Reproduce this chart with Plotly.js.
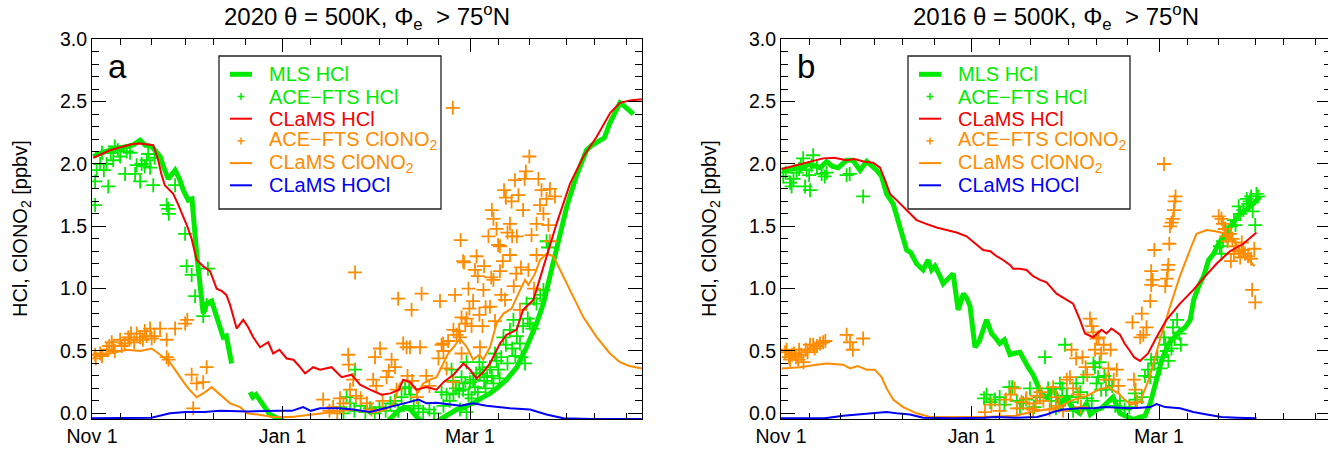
<!DOCTYPE html>
<html>
<head>
<meta charset="utf-8">
<script src="https://cdn.plot.ly/plotly-3.0.1.min.js"></script>
<style>
html,body{margin:0;padding:0;overflow:hidden;background:#fff;}
#chart{width:1334px;height:450px;}
</style>
</head>
<body>
<div id="chart"></div>
<script>
// ---------------- DATA (days since Nov 1) ----------------
const xTickDays = [0, 61, 121];
const xTickLabels = ['Nov 1', 'Jan 1', 'Mar 1'];
const xMinorDays = [9, 19, 30, 39, 49, 70, 80, 92, 101, 111, 130, 140, 152, 161, 171];

const panelTitles = ['2020 θ = 500K, Φ<sub>e</sub>  > 75<sup>o</sup>N', '2016 θ = 500K, Φ<sub>e</sub>  > 75<sup>o</sup>N'];
const panelLetters = ['a', 'b'];
const yLabel = 'HCl, ClONO<sub>2</sub> [ppbv]';
const seriesNames = ['MLS HCl', 'ACE−FTS HCl', 'CLaMS HCl', 'ACE−FTS ClONO<sub>2</sub>', 'CLaMS ClONO<sub>2</sub>', 'CLaMS HOCl'];

// ---- Panel a (2019/2020) ----
const a_mls_day = [0.4, 3, 5.8, 8, 11.1, 13, 15.4, 17, 19.1, 21.8, 23, 24.4, 26.6, 28, 29.2, 30.8, 32, 33.5, 35.6, 36.7, 38.3, 40.4, 42.0, 43, 44.7, 47, 50.6, 51.5, 52.5, 53.8, 55, 56.9, 58.5, 60, 62, 65, 70, 75, 80, 85, 90, 94, 96, 98, 100, 102, 104, 106, 108, 110, 112.4, 114.5, 116.7, 119, 122, 124.5, 127.4, 130, 132.7, 136, 139.1, 142.3, 144.5, 146.6, 149.3, 152, 155, 158.3, 160, 162.6, 164, 165.8, 167.3, 169, 170.6, 172, 173.3];
const a_mls_val = [2.06, 2.09, 2.11, 2.12, 2.14, 2.15, 2.19, 2.15, 2.14, 2.06, 1.97, 1.88, 1.95, 1.88, 1.79, 1.71, 1.72, 1.28, 0.80, 0.88, 0.90, 0.75, 0.61, 0.62, 0.40, null, 0.17, 0.13, 0.15, 0.11, 0.06, -0.01, -0.03, -0.04, -0.07, -0.10, -0.12, -0.11, -0.10, -0.10, -0.09, -0.08, -0.03, 0.02, 0.05, 0.03, -0.03, -0.08, -0.10, -0.07, -0.04, 0.0, 0.03, 0.05, 0.08, 0.12, 0.16, 0.21, 0.27, 0.37, 0.53, 0.72, 0.88, 1.10, 1.39, 1.66, 1.90, 2.11, 2.15, 2.19, 2.21, 2.33, 2.40, 2.49, 2.46, 2.43, 2.40];

const a_clams_hcl_day = [0.4, 3, 5.8, 8.5, 11.1, 13, 15.4, 17.5, 19.6, 21.2, 22.2, 23.3, 24.5, 26, 27.5, 29.2, 30.5, 31.9, 33.5, 35.6, 37.8, 39.9, 41.6, 43, 44.2, 46.3, 48.4, 50, 51.6, 53.8, 56.4, 58, 60, 62.3, 64.5, 66.6, 68.2, 70.8, 73, 76.7, 79.9, 83.1, 85.8, 89, 92.7, 95.5, 98.3, 99.6, 101.8, 103.9, 107.1, 110.3, 112.5, 115.7, 118.9, 121, 123.1, 125.2, 127.4, 130.6, 132.7, 135.9, 138, 141.3, 144.5, 148.7, 153, 157.3, 161.6, 165.9, 169, 172.2, 176];
const a_clams_hcl_val = [2.05, 2.08, 2.11, 2.13, 2.15, 2.16, 2.165, 2.16, 2.15, 2.03, 1.92, 1.83, 1.80, 1.76, 1.68, 1.58, 1.50, 1.40, 1.23, 1.18, 1.14, 1.00, 0.98, 0.95, 0.87, 0.68, 0.75, 0.69, 0.61, 0.53, 0.57, 0.48, 0.51, 0.44, 0.43, 0.37, 0.32, 0.37, 0.35, 0.37, 0.29, 0.31, 0.23, 0.19, 0.15, 0.16, 0.19, 0.27, 0.25, 0.19, 0.21, 0.19, 0.25, 0.31, 0.40, 0.35, 0.28, 0.33, 0.40, 0.56, 0.63, 0.67, 0.83, 0.91, 1.18, 1.52, 1.84, 2.06, 2.22, 2.41, 2.49, 2.51, 2.52];

const a_clams_clono2_day = [0.4, 5.8, 11.1, 15.4, 19.1, 21.8, 24.9, 28.2, 30.8, 33.5, 36.2, 38.3, 41, 44.2, 47.4, 49.6, 53, 58, 64, 70.8, 76, 80, 83.6, 88, 91, 94, 96.4, 98.6, 100.7, 102.8, 104.5, 106, 108.2, 110.3, 112.4, 114, 115.7, 117.8, 120, 122, 124, 125.2, 127.4, 129.5, 131.7, 134.3, 136.5, 138.6, 139.7, 141.8, 143.4, 145.5, 147.7, 150.9, 154.1, 157.3, 161.6, 165.8, 169, 172, 176];
const a_clams_clono2_val = [0.45, 0.48, 0.51, 0.50, 0.52, 0.47, 0.41, 0.29, 0.20, 0.13, 0.17, 0.21, 0.15, 0.08, 0.05, 0.0, -0.01, -0.03, -0.03, -0.01, 0.01, 0.02, 0.03, 0.01, 0.01, 0.03, 0.07, 0.24, 0.27, 0.21, 0.17, 0.24, 0.27, 0.29, 0.40, 0.48, 0.53, 0.60, 0.53, 0.43, 0.47, 0.43, 0.53, 0.72, 0.80, 0.84, 0.96, 1.07, 1.03, 1.12, 1.23, 1.28, 1.26, 1.10, 0.94, 0.77, 0.61, 0.48, 0.41, 0.38, 0.36];

const a_clams_hocl_day = [0, 10, 19, 25, 30, 36, 41, 50, 56, 60, 64, 67.6, 70, 73, 79, 83.6, 89, 94, 98.6, 101.5, 104.5, 107.1, 110.3, 114.6, 118, 122, 126.3, 133.8, 140.2, 145.5, 150.9, 160, 176];
const a_clams_hocl_val = [-0.04, -0.04, -0.035, 0.0, 0.01, 0.01, 0.02, 0.015, 0.02, 0.02, 0.02, 0.05, 0.02, 0.04, 0.04, 0.03, 0.01, 0.04, 0.07, 0.09, 0.11, 0.08, 0.085, 0.07, 0.06, 0.08, 0.06, 0.04, 0.03, -0.01, -0.04, -0.045, -0.045];

const a_ace_hcl_day = [1.0, 1.0, 1.5, 2.6, 3.2, 3.8, 4.7, 5.2, 6.0, 6.8, 7.3, 8.3, 9.0, 10.6, 11.1, 12.2, 13.8, 14.3, 15.4, 15.9, 16.9, 17.5, 18.0, 18.6, 19.6, 20.1, 23.9, 24.4, 24.6, 26.6, 29.8, 30.3, 31.9, 33.0, 35.6, 36.7, 37.1,
  79.4, 80.5, 81.5, 82.6, 84.2, 84.0, 86.0, 87.5, 89.0, 90.5, 92.0, 94.0, 95.5, 97.0, 98.0, 99.1, 100.2, 101.5, 102.0, 103.0, 104.5, 106.0, 108.0, 109.5, 111.9, 112.5, 113.5, 114.5, 115.1, 115.5, 115.7, 116.5, 117.5, 117.8, 118.3, 118.8, 119.5, 119.9, 119.9, 120.5, 121.0, 121.5, 122.0, 122.6, 123.0, 123.5, 124.0, 124.2, 125.0, 125.5, 126.0, 126.5, 127.4, 128.0, 128.5, 129.0, 129.5, 130.0, 130.5, 131.0, 131.7, 132.5, 133.0, 133.8, 134.5, 134.9, 135.5, 136.0, 137.0, 137.5, 138.6, 138.0, 139.1, 139.5, 140.2, 141.0, 141.5, 142.3, 143.5, 144.5, 145.5, 146.0];
const a_ace_hcl_val = [1.67, 1.86, 1.95, 2.00, 2.09, 1.95, 2.00, 1.82, 2.09, 2.03, 2.14, 2.11, 2.06, 1.92, 2.10, 2.09, 1.92, 1.99, 1.86, 2.00, 1.98, 2.03, 2.08, 1.97, 1.83, 2.05, 1.67, 1.64, 1.60, 1.83, 1.44, 1.18, 1.11, 0.94, 0.78, 0.87, 1.16,
  0.05, 0.0, 0.13, 0.08, 0.35, 0.02, 0.06, 0.01, 0.04, 0.0, 0.05, 0.02, 0.08, 0.10, 0.02, 0.13, 0.20, 0.21, 0.15, 0.06, 0.04, 0.01, 0.03, 0.0, 0.17, 0.06, 0.15, 0.10, 0.35, 0.26, 0.16, 0.20, 0.18, 0.03, 0.29, 0.19, 0.24, 0.41, 0.01, 0.15, 0.25, 0.12, 0.27, 0.21, 0.32, 0.17, 0.41, 0.32, 0.35, 0.26, 0.20, 0.29, 0.37, 0.30, 0.24, 0.48, 0.42, 0.35, 0.28, 0.45, 0.61, 0.55, 0.40, 0.67, 0.52, 0.75, 0.46, 0.62, 0.56, 0.45, 0.40, 0.70, 0.88, 0.76, 0.72, 0.68, 0.92, 0.88, 0.95, 0.99, 1.38, 1.33];

const a_ace_clono2_day = [1.0, 1.2, 2.6, 3.2, 4.7, 5.5, 6.3, 6.8, 7.3, 9.0, 9.5, 10.5, 11.6, 12.0, 12.5, 13.5, 14.3, 15.4, 16.3, 16.9, 17.5, 18.6, 19.1, 20.0, 21.8, 23.9, 23.9, 24.5, 26.6, 29.8, 30.5, 31.9, 32.4, 33.5, 35.6, 36.7,
  74.0, 76.0, 77.2, 78.5, 79.4, 80.5, 82.0, 82.2, 82.6, 83.6, 84.2, 84.5, 86.0, 88.0, 89.5, 90.0, 90.6, 91.0, 92.2, 93.0, 94.3, 95.0, 95.9, 97.0, 97.5, 98.0, 99.6, 100.7, 101.0, 101.8, 102.3, 102.5, 104.0, 105.0, 105.5, 107.0, 108.0, 110.9, 111.4, 111.9, 112.4, 112.5, 113.5, 114.0, 115.5, 115.7, 115.7, 116.2, 116.7, 117.5, 117.8, 118.0, 118.3, 118.3, 118.8, 119.1, 119.5, 119.9, 120.5, 120.8, 121.5, 122.0, 122.6, 123.1, 123.5, 124.2, 124.0, 125.0, 125.3, 125.5, 126.0, 126.9, 127.4, 127.8, 128.0, 128.5, 128.5, 129.0, 129.5, 130.0, 130.6, 130.6, 131.0, 131.5, 131.9, 132.2, 132.5, 133.0, 133.8, 133.8, 134.3, 134.5, 135.0, 135.4, 135.8, 136.0, 136.5, 137.0, 137.3, 138.0, 138.5, 138.9, 139.7, 140.0, 140.7, 141.5, 142.3, 142.3, 142.9, 143.4, 143.9, 144.5, 145.5, 146.1, 146.6, 146.6, 148.2];
const a_ace_clono2_val = [0.47, 0.44, 0.48, 0.46, 0.51, 0.54, 0.57, 0.54, 0.50, 0.59, 0.54, 0.56, 0.61, 0.59, 0.64, 0.57, 0.64, 0.61, 0.59, 0.66, 0.62, 0.68, 0.60, 0.62, 0.68, 0.59, 0.45, 0.43, 0.68, 0.72, 0.75, 0.31, 0.04, 0.24, 0.25, 0.37,
  0.11, 0.02, 0.05, 0.0, 0.12, 0.08, 0.47, 0.39, 0.19, 0.27, 1.13, 0.14, 0.12, 0.08, 0.03, 0.27, 0.45, 0.22, 0.52, 0.10, 0.29, 0.34, 0.43, 0.37, 0.19, 0.92, 0.56, 0.53, 0.30, 0.53, 0.83, 0.26, 0.13, 0.53, 0.96, 0.30, 0.22, 0.44, 0.90, 0.55, 0.56, 0.50, 0.36, 0.58, 2.45, 0.67, 0.25, 0.95, 0.63, 0.66, 0.61, 1.39, 0.77, 0.48, 1.22, 1.21, 0.72, 0.76, 1.00, 0.84, 0.70, 0.90, 1.15, 1.26, 1.10, 0.53, 0.79, 0.70, 0.99, 1.18, 0.85, 1.42, 0.855, 1.09, 1.63, 1.56, 1.07, 0.74, 1.48, 1.35, 1.34, 1.14, 0.95, 1.22, 1.79, 0.91, 1.73, 1.45, 1.52, 1.27, 1.70, 1.42, 1.02, 1.87, 1.12, 1.42, 1.75, 0.83, 1.17, 1.63, 1.88, 1.94, 1.15, 2.06, 1.43, 1.00, 1.52, 1.27, 1.88, 1.67, 1.79, 1.60, 1.72, 1.51, 1.80, 1.38, 1.74];

// ---- Panel b (2015/2016) ----
const b_mls_day = [0.2, 2.9, 6.1, 9.3, 12.5, 14.6, 16.5, 18.3, 21, 23, 25.3, 27.4, 29, 30.6, 32.2, 33.8, 35.9, 37.5, 39.1, 40.2, 41.5, 43.4, 45.5, 47.1, 48.2, 49.3, 50.9, 51.9, 53.5, 55.1, 56.7, 58.4, 59.5, 60.5, 62.1, 63.5, 65.8, 67.4, 68.5, 70, 71.5, 73.3, 74.5, 76.5, 79.1, 80.7, 83.3, 85.4, 87.1, 89.3, 91.4, 93, 95.7, 97.8, 99, 101, 102.5, 104.2, 106.3, 108.5, 110.6, 112.7, 114.9, 116.5, 118.2, 120.3, 121.9, 124.1, 127.3, 129.4, 131, 132.1, 133.7, 135.3, 136.9, 138.5, 140.1, 142.2, 144.3, 146.5, 148.7, 150.7, 153.4];
const b_mls_val = [1.95, 1.96, 1.97, 2.00, 1.97, 2.02, 1.98, 1.97, 2.03, 2.03, 1.95, 2.02, 1.99, 1.95, 1.90, 1.76, 1.68, 1.55, 1.39, 1.31, 1.29, 1.20, 1.15, 1.23, 1.15, 1.18, 1.10, 1.04, 1.08, 1.12, 0.83, 0.96, 0.92, 0.86, 0.53, 0.58, 0.75, 0.64, 0.61, 0.56, 0.59, 0.47, 0.48, 0.49, 0.37, 0.31, 0.16, 0.12, 0.21, 0.08, 0.13, 0.05, 0.0, 0.08, -0.01, 0.03, 0.04, 0.08, 0.13, 0.0, -0.03, -0.05, -0.03, -0.02, 0.08, 0.27, 0.43, 0.56, 0.65, 0.69, 0.75, 0.91, 1.02, 1.10, 1.23, 1.28, 1.36, 1.44, 1.51, 1.59, 1.63, 1.67, 1.74];

const b_clams_hcl_day = [0.2, 6.1, 13.5, 17, 21, 23.5, 26.4, 29.5, 31.7, 33.3, 34.9, 37, 40.2, 43.4, 46.5, 49.8, 53, 56.2, 59.4, 62.6, 64.7, 67, 69, 71.1, 73.3, 74.3, 76.5, 78.6, 80.7, 82.9, 85, 88.2, 91.4, 93.5, 95.7, 97.3, 99.9, 102.6, 104.2, 105.8, 108.5, 110, 111.7, 113, 114.9, 117.5, 120.2, 123.4, 127.7, 132, 135.1, 139.4, 143.7, 148, 152.2];
const b_clams_hcl_val = [1.96, 2.0, 2.045, 2.05, 2.03, 2.04, 2.02, 2.01, 1.97, 1.87, 1.76, 1.71, 1.63, 1.55, 1.52, 1.49, 1.47, 1.45, 1.42, 1.35, 1.31, 1.30, 1.26, 1.23, 1.19, 1.16, 1.16, 1.15, 1.10, 1.07, 1.05, 0.96, 0.91, 0.88, 0.75, 0.64, 0.61, 0.67, 0.64, 0.68, 0.63, 0.56, 0.50, 0.45, 0.42, 0.48, 0.61, 0.75, 0.88, 0.99, 1.08, 1.20, 1.30, 1.36, 1.45];

const b_clams_clono2_day = [0.2, 6, 11.4, 14.6, 19.9, 22.1, 24.5, 27.4, 30, 32.2, 33.8, 35.9, 39.1, 43.4, 47.7, 55, 65, 75, 80, 85, 89.3, 92.5, 95, 98, 101.6, 104.8, 108, 110, 112, 114.9, 118, 121.3, 124.5, 127.7, 130.9, 133, 136.3, 139, 142.5, 144.7, 147.9, 151.6];
const b_clams_clono2_val = [0.36, 0.37, 0.39, 0.40, 0.39, 0.36, 0.38, 0.35, 0.35, 0.29, 0.20, 0.11, 0.05, 0.0, -0.03, -0.03, -0.03, -0.02, 0.01, 0.03, 0.05, 0.10, 0.12, 0.14, 0.19, 0.21, 0.16, 0.11, 0.07, 0.09, 0.29, 0.59, 0.855, 1.10, 1.31, 1.44, 1.47, 1.46, 1.44, 1.39, 1.28, 1.18];

const b_clams_hocl_day = [0, 14, 19.9, 24, 29.5, 33.8, 37, 41.3, 45.5, 55, 65, 68.8, 75, 82, 85, 87.1, 90.3, 95.7, 100, 104, 108, 112, 115, 118.2, 120.2, 123, 127.7, 132, 136.3, 141, 146, 152.2];
const b_clams_hocl_val = [-0.04, -0.04, -0.02, -0.01, 0.0, 0.01, 0.0, -0.01, -0.035, -0.04, -0.035, -0.03, -0.035, -0.03, -0.01, 0.01, 0.03, 0.04, 0.04, 0.05, 0.045, 0.04, 0.045, 0.05, 0.075, 0.05, 0.04, 0.01, -0.01, -0.03, -0.035, -0.04];

const b_ace_hcl_day = [0.7, 1.5, 2.9, 3.4, 4.0, 5.0, 5.8, 6.3, 7.1, 7.7, 8.2, 9.3, 9.0, 9.8, 10.3, 11.5, 13.0, 14.0, 14.6, 21.0, 22.0, 26.3,
  65.0, 65.8, 67.0, 68.5, 70.0, 71.5, 73.1, 74.0, 75.5, 76.5, 77.5, 78.5, 79.7, 81.0, 82.9, 84.5, 85.5, 86.5, 88.0, 89.3, 90.0, 90.9, 91.5, 92.5, 93.5, 94.5, 95.0, 95.8, 96.8, 98.0, 99.5, 100.0, 100.5, 101.0, 101.5, 102.0, 102.5, 103.5, 104.0, 105.0, 106.0, 107.0, 108.5, 110.0, 111.5, 113.3, 113.5, 115.5, 116.5, 117.5, 118.2, 118.5, 119.5, 120.5, 121.5, 122.6, 123.0, 123.5, 124.0, 125.0, 125.5, 126.0, 126.8, 127.5, 128.0,
  140.5, 141.0, 141.5, 142.2, 143.0, 143.5, 144.0, 145.0, 145.5, 146.5, 147.0, 148.0, 149.1, 149.6, 150.0, 150.5, 151.0, 151.8, 152.2, 152.7];
const b_ace_hcl_val = [1.90, 1.93, 1.85, 1.82, 1.88, 1.93, 1.96, 1.99, 2.045, 1.82, 1.95, 1.79, 1.91, 1.99, 2.07, 1.97, 1.92, 1.90, 1.93, 1.91, 1.92, 1.74,
  0.12, 0.15, 0.09, 0.11, 0.13, 0.07, 0.21, 0.21, 0.10, 0.04, 0.08, 0.11, 0.20, 0.05, 0.13, 0.45, 0.20, 0.10, 0.04, 0.24, 0.20, 0.55, 0.14, 0.09, 0.02, 0.24, 0.13, 0.17, 0.29, 0.12, 0.10, 0.40, 0.37, 0.24, 0.29, 0.41, 0.19, 0.30, 0.19, 0.27, 0.22, 0.06, 0.10, 0.03, 0.05, 0.16, 0.11, 0.13, 0.30, 0.35, 0.29, 0.43, 0.40, 0.45, 0.36, 0.61, 0.55, 0.50, 0.42, 0.52, 0.69, 0.60, 0.75, 0.64, 0.55,
  1.34, 1.28, 1.38, 1.48, 1.40, 1.44, 1.50, 1.55, 1.51, 1.66, 1.60, 1.63, 1.72, 1.68, 1.70, 1.74, 1.62, 1.51, 1.76, 1.74];

const b_ace_clono2_day = [1.3, 1.8, 2.5, 2.9, 3.5, 4.2, 4.8, 5.5, 5.8, 6.5, 7.2, 7.9, 8.5, 9.3, 10.3, 10.8, 11.5, 12.5, 13.5, 14.2, 21.0, 22.1, 23.0, 26.3,
  65.3, 67.4, 70.0, 72.0, 73.5, 74.8, 75.5, 77.0, 78.5, 79.5, 80.7, 81.5, 82.0, 83.0, 84.0, 86.0, 87.1, 88.0, 89.0, 90.3, 91.5, 92.5, 93.0, 93.5, 94.5, 95.0, 96.0, 96.5, 97.5, 98.0, 98.9, 99.5, 100.0, 100.5, 101.0, 101.7, 102.5, 103.3, 104.0, 104.8, 105.5, 106.5, 107.5, 108.0, 112.5, 113.0, 113.5, 114.0, 115.0, 115.5, 116.0, 117.0, 118.2, 118.5, 119.0, 118.5, 119.5, 122.6, 123.0, 123.5, 123.8, 124.0, 124.3, 124.5, 125.0, 125.5, 125.8, 126.0, 126.3,
  140.1, 141.0, 141.5, 142.0, 142.5, 143.0, 143.7, 144.5, 145.5, 146.5, 147.5, 144.0, 145.0, 147.0, 148.0, 148.5, 149.5, 150.5, 151.5, 150.8, 151.8];
const b_ace_clono2_val = [0.49, 0.51, 0.45, 0.43, 0.47, 0.48, 0.45, 0.43, 0.51, 0.47, 0.41, 0.51, 0.49, 0.55, 0.55, 0.52, 0.54, 0.56, 0.57, 0.58, 0.63, 0.57, 0.51, 0.60,
  0.01, 0.07, 0.02, 0.11, 0.15, 0.20, 0.04, 0.09, 0.12, 0.04, 0.03, 0.08, 0.14, 0.17, 0.10, 0.03, 0.21, 0.13, 0.06, 0.02, 0.27, 0.29, 0.51, 0.20, 0.44, 0.15, 0.05, 0.45, 0.37, 0.31, 0.76, 0.70, 0.65, 0.51, 0.60, 0.61, 0.48, 0.55, 0.27, 0.36, 0.51, 0.27, 0.35, 0.22, 0.73, 0.27, 0.19, 0.09, 0.61, 0.80, 0.63, 0.69, 0.90, 1.03, 1.07, 1.14, 1.31, 2.00, 1.02, 1.08, 1.15, 1.19, 1.36, 1.50, 1.53, 1.56, 1.63, 1.70, 1.74,
  1.58, 1.56, 1.52, 1.48, 1.42, 1.38, 1.44, 1.40, 1.34, 1.30, 1.37, 1.22, 1.28, 1.25, 1.31, 1.28, 1.26, 1.24, 1.32, 0.99, 0.89];

// ---------------- STYLE ----------------
const GREEN = 'rgb(0,235,0)';
const RED = 'rgb(245,0,0)';
const ORANGE = 'rgb(255,140,0)';
const BLUE = 'rgb(0,0,245)';
const FONT = '"Liberation Sans", Arial, Helvetica, sans-serif';
const W = 1334, H = 450;
const px = v => v / W;
const py = v => 1 - v / H;

function panelTraces(xa, ya, d) {
  const cross = c => ({symbol: 'cross-thin', size: 10, color: c, line: {width: 1.8, color: c}});
  return [
    {x: d.aceHclDay, y: d.aceHclVal, xaxis: xa, yaxis: ya, mode: 'markers', marker: cross(GREEN), showlegend: false, cliponaxis: true},
    {x: d.mlsDay, y: d.mlsVal, xaxis: xa, yaxis: ya, mode: 'lines', line: {color: GREEN, width: 5}, showlegend: false},
    {x: d.aceClDay, y: d.aceClVal, xaxis: xa, yaxis: ya, mode: 'markers', marker: cross(ORANGE), showlegend: false, cliponaxis: true},
    {x: d.clClDay, y: d.clClVal, xaxis: xa, yaxis: ya, mode: 'lines', line: {color: ORANGE, width: 2}, showlegend: false},
    {x: d.clHclDay, y: d.clHclVal, xaxis: xa, yaxis: ya, mode: 'lines', line: {color: RED, width: 2}, showlegend: false},
    {x: d.hoclDay, y: d.hoclVal, xaxis: xa, yaxis: ya, mode: 'lines', line: {color: BLUE, width: 2}, showlegend: false}
  ];
}

const traces = [].concat(
  panelTraces('x', 'y', {aceHclDay: a_ace_hcl_day, aceHclVal: a_ace_hcl_val, mlsDay: a_mls_day, mlsVal: a_mls_val,
    aceClDay: a_ace_clono2_day, aceClVal: a_ace_clono2_val, clClDay: a_clams_clono2_day, clClVal: a_clams_clono2_val,
    clHclDay: a_clams_hcl_day, clHclVal: a_clams_hcl_val, hoclDay: a_clams_hocl_day, hoclVal: a_clams_hocl_val}),
  panelTraces('x2', 'y2', {aceHclDay: b_ace_hcl_day, aceHclVal: b_ace_hcl_val, mlsDay: b_mls_day, mlsVal: b_mls_val,
    aceClDay: b_ace_clono2_day, aceClVal: b_ace_clono2_val, clClDay: b_clams_clono2_day, clClVal: b_clams_clono2_val,
    clHclDay: b_clams_hcl_day, clHclVal: b_clams_hcl_val, hoclDay: b_clams_hocl_day, hoclVal: b_clams_hocl_val})
);

function xAxis(domain, anchor) {
  return {
    domain: domain, anchor: anchor, range: [0, 176.06],
    showline: true, linecolor: '#000', linewidth: 1, mirror: 'ticks',
    ticks: 'inside', ticklen: 13, tickwidth: 1, tickcolor: '#000',
    tickmode: 'array', tickvals: xTickDays, ticktext: xTickLabels,
    minor: {tickmode: 'array', tickvals: xMinorDays, ticks: 'inside', ticklen: 6, tickwidth: 1, tickcolor: '#000'},
    showgrid: false, zeroline: false, fixedrange: true,
    tickfont: {family: FONT, size: 19.5, color: '#000'}
  };
}
function yAxis(anchor) {
  return {
    domain: [1 - 419 / H, 1 - 39.3 / H], anchor: anchor, range: [-0.0455, 3.0],
    showline: true, linecolor: '#000', linewidth: 1, mirror: 'ticks',
    ticks: 'inside', ticklen: 14, tickwidth: 1, tickcolor: '#000',
    tickmode: 'linear', tick0: 0, dtick: 0.5, tickformat: '.1f',
    minor: {tickmode: 'linear', tick0: 0, dtick: 0.1, ticks: 'inside', ticklen: 7, tickwidth: 1, tickcolor: '#000'},
    showgrid: false, zeroline: false, fixedrange: true,
    tickfont: {family: FONT, size: 19.5, color: '#000'}
  };
}

const panels = [{x0: 92, xref: 'x domain', yref: 'y domain'}, {x0: 781, xref: 'x2 domain', yref: 'y2 domain'}];
const legendColors = [GREEN, GREEN, RED, ORANGE, ORANGE, BLUE];
const legendKinds = ['thick', 'plus', 'line', 'plus', 'line', 'line'];
const rowY = [74.3, 96.5, 118.7, 140.9, 163.1, 185.3];

const annotations = [];
const shapes = [];
panels.forEach((p, i) => {
  const off = p.x0 - 92;
  annotations.push({text: panelTitles[i], xref: p.xref, x: 0.5, yref: 'paper', y: py(17), xanchor: 'center', yanchor: 'middle', showarrow: false, font: {family: FONT, size: 24, color: '#000'}});
  annotations.push({text: yLabel, xref: 'paper', x: px(22 + off), yref: 'paper', y: py(229), textangle: -90, xanchor: 'center', yanchor: 'middle', showarrow: false, font: {family: FONT, size: 20, color: '#000'}});
  annotations.push({text: panelLetters[i], xref: 'paper', x: px(117 + off), yref: 'paper', y: py(67), xanchor: 'center', yanchor: 'middle', showarrow: false, font: {family: FONT, size: 33, color: '#000'}});
  // legend box
  shapes.push({type: 'rect', xref: 'paper', yref: 'paper', x0: px(219 + off), x1: px(441 + off), y0: py(56), y1: py(209), line: {color: '#222', width: 1.3}, fillcolor: 'rgba(255,255,255,0)'});
  seriesNames.forEach((name, k) => {
    const yy = rowY[k];
    const c = legendColors[k];
    if (legendKinds[k] === 'plus') {
      shapes.push({type: 'line', xref: 'paper', yref: 'paper', x0: px(237.5 + off), x1: px(244.5 + off), y0: py(yy), y1: py(yy), line: {color: c, width: 1.5}});
      shapes.push({type: 'line', xref: 'paper', yref: 'paper', x0: px(241 + off), x1: px(241 + off), y0: py(yy - 3.5), y1: py(yy + 3.5), line: {color: c, width: 1.5}});
    } else {
      shapes.push({type: 'line', xref: 'paper', yref: 'paper', x0: px(230 + off), x1: px(252 + off), y0: py(yy), y1: py(yy), line: {color: c, width: legendKinds[k] === 'thick' ? 5 : 2}});
    }
    annotations.push({text: name, xref: 'paper', x: px(268 + off), yref: 'paper', y: py(yy), xanchor: 'left', yanchor: 'middle', showarrow: false, borderpad: 0, font: {family: FONT, size: 20, color: c}});
  });
});

const layout = {
  width: W, height: H, margin: {l: 0, r: 0, t: 0, b: 0},
  paper_bgcolor: '#fff', plot_bgcolor: '#fff',
  showlegend: false,
  xaxis: xAxis([92 / W, 642 / W], 'y'),
  yaxis: yAxis('x'),
  xaxis2: xAxis([781 / W, 1331 / W], 'y2'),
  yaxis2: yAxis('x2'),
  annotations: annotations,
  shapes: shapes,
  font: {family: FONT}
};

Plotly.newPlot('chart', traces, layout, {displayModeBar: false, staticPlot: true});
</script>
</body>
</html>
